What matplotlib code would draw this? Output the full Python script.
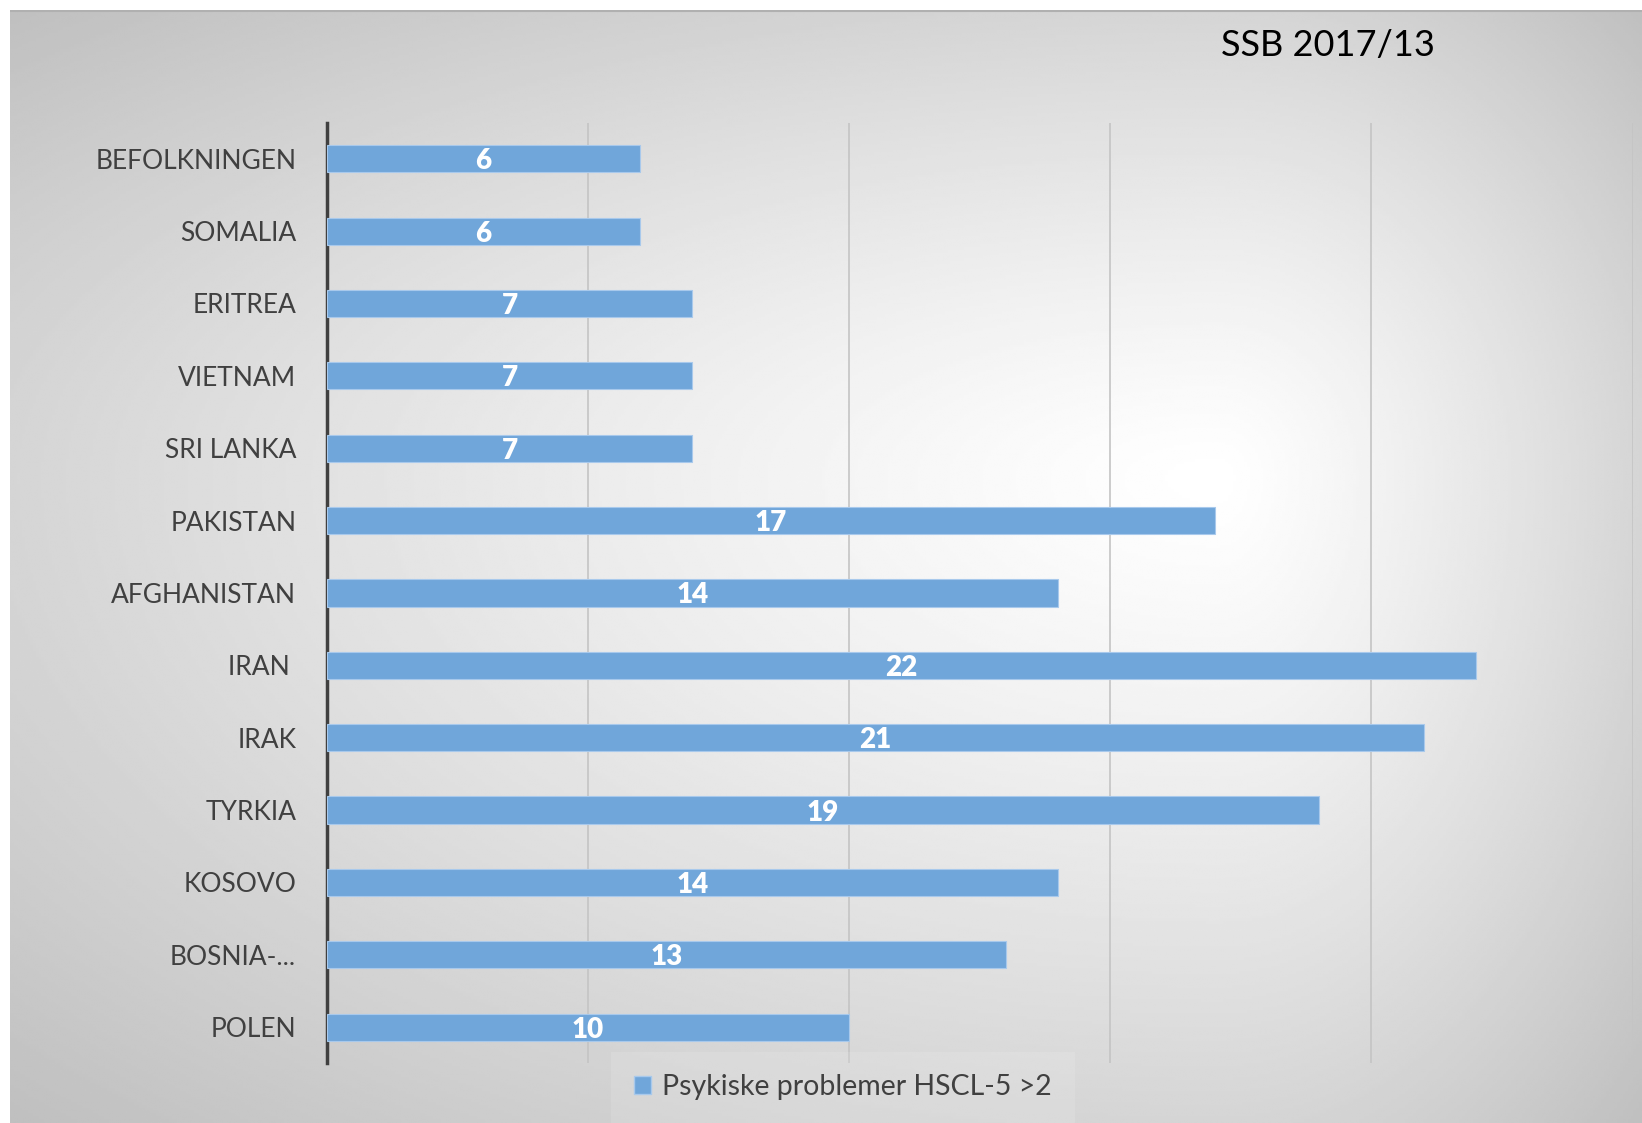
import numpy as np
import matplotlib.pyplot as plt

categories = ['BEFOLKNINGEN', 'SOMALIA', 'ERITREA', 'VIETNAM', 'SRI LANKA', 'PAKISTAN',
              'AFGHANISTAN', 'IRAN ', 'IRAK', 'TYRKIA', 'KOSOVO', 'BOSNIA-...', 'POLEN']
values = [6, 6, 7, 7, 7, 17, 14, 22, 21, 19, 14, 13, 10]
series_name = 'Psykiske problemer HSCL-5 >2'
title = 'SSB 2017/13'

plt.rcParams['font.family'] = ['Lato', 'DejaVu Sans']

fig = plt.figure(figsize=(16.42, 11.23), dpi=100)

# gray radial background, white strip on top and left
W, H = 1642, 1123
x0, y0 = 9.5 / W, 9.5 / H
bg = fig.add_axes([x0, 0, 1 - x0, 1 - y0])
bg.set_axis_off()
ny, nx = 400, 600
xx, yy = np.meshgrid(np.linspace(0, 1, nx), np.linspace(0, 1, ny))
cx, cy = 0.74, 0.42
dx = np.where(xx < cx, (xx - cx) / cx, (xx - cx) / (1 - cx))
dy = np.where(yy < cy, (yy - cy) / cy, (yy - cy) / (1 - cy))
r = np.clip(np.sqrt(dx ** 2 + dy ** 2) / np.sqrt(2), 0, 1)
shade = 1.0 - 0.25 * r ** 1.2
bg.imshow(shade, cmap='gray', vmin=0, vmax=1, aspect='auto', extent=(0, 1, 1, 0),
          interpolation='bilinear')
bg.set_xlim(0, 1)
bg.set_ylim(1, 0)
bg.axhline(0.0015, color='#b0b0b0', lw=1.5)

ax = fig.add_axes([312 / 1568, 1 - 1015 / 1072, (1559 - 312) / 1568, (1015 - 117) / 1072])
ax.patch.set_alpha(0)
y = np.arange(len(categories))
bars = ax.barh(y, values, height=0.376, color='#70a6da', edgecolor='#a8c9ec', linewidth=0.8,
               zorder=3)
ax.set_xlim(0, 25)
ax.set_ylim(len(categories) - 0.5, -0.5)
ax.set_yticks(y)
ax.set_yticklabels(categories, fontsize=19, color='#404040')
ax.tick_params(axis='y', length=0, pad=22)
ax.set_xticks([5, 10, 15, 20, 25])
ax.tick_params(axis='x', length=0, labelbottom=False)
ax.grid(axis='x', color='#c4c4c4', linewidth=1.2, zorder=0)
for side in ['top', 'right', 'bottom']:
    ax.spines[side].set_visible(False)
ax.spines['left'].set_color('#404040')
ax.spines['left'].set_linewidth(2.5)

for b, v in zip(bars, values):
    ax.text(v / 2, b.get_y() + b.get_height() / 2, str(v), ha='center', va='center_baseline',
            color='white', fontsize=20, fontweight='heavy', zorder=4)

fig.text(1268 / 1568, 1 - 43 / 1072, title, ha='center', va='center', fontsize=26,
         color='black')

handle = plt.Rectangle((0, 0), 1, 1, facecolor='#70a6da', edgecolor='#a8c9ec')
leg = fig.legend([handle], [series_name], loc='center', bbox_to_anchor=(805 / 1568, 1 - 1038 / 1072),
                 fontsize=20.5, frameon=True, handlelength=0.6, handleheight=0.6,
                 handletextpad=0.4, borderpad=0.5, borderaxespad=0)
leg.get_frame().set_facecolor('white')
leg.get_frame().set_alpha(0.12)
leg.get_frame().set_edgecolor('none')
leg.get_frame().set_boxstyle('square', pad=0.3)
for t in leg.get_texts():
    t.set_color('#404040')

fig.savefig('out.png', dpi=100)
